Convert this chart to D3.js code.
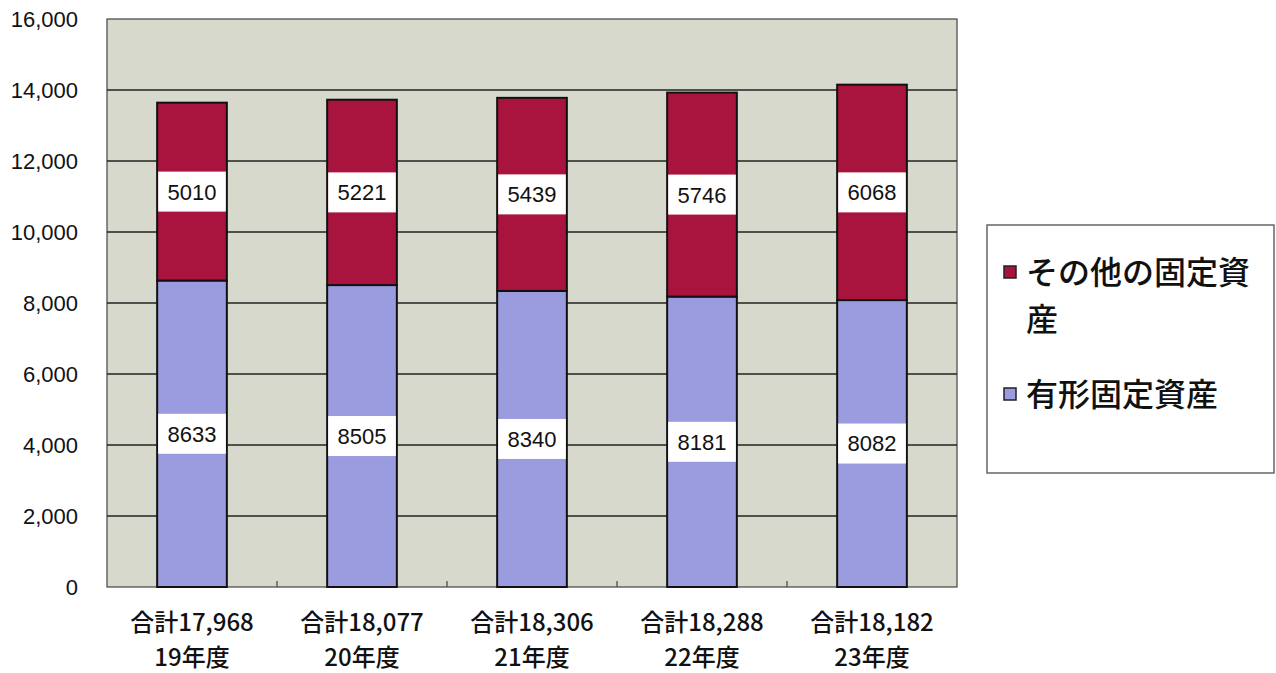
<!DOCTYPE html>
<html>
<head>
<meta charset="utf-8">
<script src="https://cdn.jsdelivr.net/npm/d3@7/dist/d3.min.js"></script>
<style>
  body { margin: 0; background: #fff; }
  svg { display: block; }
</style>
</head>
<body>
<svg id="chart" width="1276" height="673"></svg>
<script>
// data
var years = ["19年度", "20年度", "21年度", "22年度", "23年度"];
var totals = ["合計17,968", "合計18,077", "合計18,306", "合計18,288", "合計18,182"];
var tangible = [8633, 8505, 8340, 8181, 8082];   // 有形固定資産
var other = [5010, 5221, 5439, 5746, 6068];      // その他の固定資産
var yTicks = [0, 2000, 4000, 6000, 8000, 10000, 12000, 14000, 16000];

var seriesNames = ["有形固定資産", "その他の固定資産"];
var colors = ["#9b9be0", "#a9143f"];

var svg = d3.select("#chart");
var plot = { left: 107, right: 957, top: 19, bottom: 587 };

var x = d3.scaleBand().domain(years).range([plot.left, plot.right]).paddingInner(0.59).paddingOuter(0.295);
var y = d3.scaleLinear().domain([0, 16000]).range([plot.bottom, plot.top]);

// plot background
svg.append("rect")
  .attr("x", plot.left).attr("y", plot.top)
  .attr("width", plot.right - plot.left).attr("height", plot.bottom - plot.top)
  .attr("fill", "#d6d9cc")
  .attr("stroke", "#444").attr("stroke-width", 1.2);

// grid lines
svg.append("g").selectAll("line")
  .data(yTicks.slice(1, -1))
  .enter().append("line")
    .attr("x1", plot.left).attr("x2", plot.right)
    .attr("y1", function(d){ return y(d); }).attr("y2", function(d){ return y(d); })
    .attr("stroke", "#222").attr("stroke-width", 1.5);

// y tick labels
svg.append("g").selectAll("text")
  .data(yTicks)
  .enter().append("text")
    .attr("x", 78)
    .attr("y", function(d){ return y(d); })
    .attr("dy", "0.36em")
    .attr("text-anchor", "end")
    .attr("font-family", "Liberation Sans, Arial, sans-serif")
    .attr("font-size", 22)
    .attr("fill", "#111")
    .text(function(d){ return d3.format(",")(d); });

// small ticks on the x axis between categories
var bandStep = x.step();
svg.append("g").selectAll("line")
  .data(d3.range(1, years.length))
  .enter().append("line")
    .attr("x1", function(i){ return plot.left + i * bandStep; })
    .attr("x2", function(i){ return plot.left + i * bandStep; })
    .attr("y1", plot.bottom).attr("y2", plot.bottom - 6)
    .attr("stroke", "#444").attr("stroke-width", 1.2);

// stacked bars
var rows = years.map(function(yr, i){ return { year: yr, a: tangible[i], b: other[i] }; });
var stack = d3.stack().keys(["a", "b"])(rows);

var layers = svg.append("g").selectAll("g")
  .data(stack)
  .enter().append("g")
    .attr("fill", function(d, i){ return colors[i]; });

layers.selectAll("rect")
  .data(function(d){ return d; })
  .enter().append("rect")
    .attr("x", function(d){ return x(d.data.year); })
    .attr("width", x.bandwidth())
    .attr("y", function(d){ return y(d[1]); })
    .attr("height", function(d){ return y(d[0]) - y(d[1]); })
    .attr("stroke", "#111").attr("stroke-width", 2);

// value labels in white boxes
var boxH = 40;
stack.forEach(function(layer){
  var g = svg.append("g");
  layer.forEach(function(d){
    var cy = y((d[0] + d[1]) / 2);
    g.append("rect")
      .attr("x", x(d.data.year) + 1)
      .attr("width", x.bandwidth() - 2)
      .attr("y", cy - boxH / 2)
      .attr("height", boxH)
      .attr("fill", "#fff");
    g.append("text")
      .attr("x", x(d.data.year) + x.bandwidth() / 2)
      .attr("y", cy)
      .attr("dy", "0.36em")
      .attr("text-anchor", "middle")
      .attr("font-family", "Liberation Sans, Arial, sans-serif")
      .attr("font-size", 22)
      .attr("fill", "#111")
      .text(d[1] - d[0]);
  });
});

// category labels (two lines)
var xl = svg.append("g")
  .attr("font-family", "Noto Sans CJK JP, sans-serif")
  .attr("font-size", 24)
  .attr("font-weight", 500)
  .attr("fill", "#111")
  .attr("text-anchor", "middle");
years.forEach(function(yr, i){
  var cx = x(yr) + x.bandwidth() / 2;
  xl.append("text").attr("x", cx).attr("y", 631).text(totals[i]);
  xl.append("text").attr("x", cx).attr("y", 666).text(yr);
});

// legend
var lg = svg.append("g");
lg.append("rect")
  .attr("x", 987).attr("y", 225).attr("width", 287).attr("height", 248)
  .attr("fill", "#fff").attr("stroke", "#666").attr("stroke-width", 1.5);

var legendItems = [
  { name: "その他の固定資", cont: "産", color: colors[1], y: 272 },
  { name: seriesNames[0], cont: null, color: colors[0], y: 394 }
];
legendItems.forEach(function(it){
  lg.append("rect")
    .attr("x", 1004).attr("y", it.y - 6).attr("width", 12).attr("height", 12)
    .attr("fill", it.color).attr("stroke", "#222").attr("stroke-width", 1.5);
  lg.append("text")
    .attr("x", 1026).attr("y", it.y)
    .attr("dy", "0.36em")
    .attr("font-family", "Noto Sans CJK JP, sans-serif")
    .attr("font-size", 32)
    .attr("font-weight", 500)
    .attr("fill", "#111")
    .text(it.name);
  if (it.cont) {
    lg.append("text")
      .attr("x", 1026).attr("y", it.y + 47)
      .attr("dy", "0.36em")
      .attr("font-family", "Noto Sans CJK JP, sans-serif")
      .attr("font-size", 32)
      .attr("font-weight", 500)
      .attr("fill", "#111")
      .text(it.cont);
  }
});
</script>
</body>
</html>
